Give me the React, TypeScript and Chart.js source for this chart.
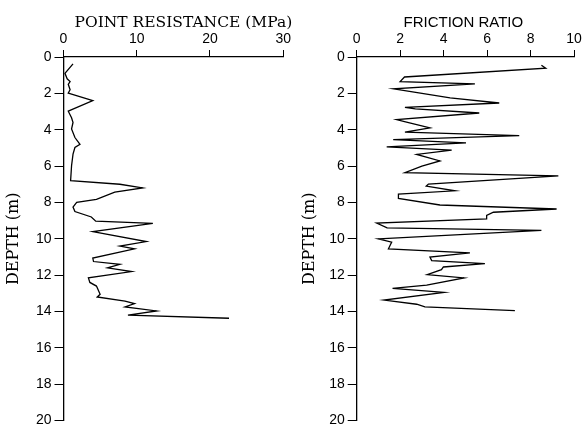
import React, { useEffect, useRef } from "react";
import { Chart, registerables } from "chart.js";

Chart.register(...registerables);

// ---- Data ----
const qcDepth = [0.38, 0.9, 1.2, 1.35, 1.5, 1.8, 1.98, 2.4, 2.98, 3.34, 3.6, 3.96, 4.43, 4.8, 4.98, 5.34, 5.98, 6.8, 7.0, 7.2, 7.43, 7.83, 8.0, 8.25, 8.5, 8.8, 9.03, 9.15, 9.6, 10.15, 10.4, 10.55, 11.06, 11.25, 11.4, 11.6, 11.8, 12.15, 12.4, 12.6, 13.05, 13.2, 13.43, 13.57, 13.75, 13.97, 14.2, 14.37];
const qcValue = [1.3, 0.2, 0.5, 0.9, 0.65, 0.9, 0.65, 4.0, 0.65, 1.1, 1.3, 1.1, 1.56, 2.25, 1.56, 1.3, 1.1, 0.97, 7.7, 10.8, 7.0, 4.5, 1.8, 1.3, 1.56, 3.8, 4.4, 12.2, 4.0, 11.3, 7.7, 9.7, 4.0, 4.1, 7.7, 6.0, 9.3, 3.4, 3.6, 4.5, 5.0, 4.6, 8.4, 9.7, 8.4, 12.7, 8.8, 22.6];

const frDepth = [0.45, 0.62, 1.1, 1.35, 1.48, 1.75, 1.9, 2.25, 2.53, 2.77, 2.85, 3.08, 3.44, 3.55, 3.9, 4.13, 4.32, 4.54, 4.72, 4.94, 5.12, 5.36, 5.72, 6.0, 6.36, 6.54, 6.99, 7.1, 7.36, 7.54, 7.78, 8.14, 8.36, 8.54, 8.72, 8.9, 9.14, 9.4, 9.54, 10.0, 10.18, 10.55, 10.77, 11.0, 11.2, 11.37, 11.55, 11.7, 11.97, 12.15, 12.55, 12.73, 12.95, 13.37, 13.6, 13.75, 13.95];
const frValue = [8.5, 8.7, 2.2, 2.0, 5.44, 1.7, 2.5, 4.3, 6.56, 2.22, 2.7, 5.64, 1.84, 2.2, 3.37, 2.22, 7.48, 1.68, 5.03, 1.38, 4.37, 2.76, 3.83, 3.0, 2.22, 9.28, 3.3, 3.2, 4.52, 1.92, 1.92, 3.83, 9.2, 6.29, 5.98, 5.98, 0.92, 1.4, 8.5, 1.0, 1.61, 1.46, 5.21, 3.37, 3.45, 5.9, 3.99, 3.9, 3.25, 4.94, 3.22, 1.65, 4.02, 1.26, 2.76, 3.14, 7.28];

const depthMin = 0;
const depthMax = 20;
const depthStep = 2;
const qcMax = 30;
const qcStep = 10;
const frMax = 10;
const frStep = 2;

const qcTitle = "POINT RESISTANCE (MPa)";
const frTitle = "FRICTION RATIO";
const depthTitle = "DEPTH (m)";

// ---- Chart helpers ----
const topTitlePlugin = {
  id: "topTitle",
  afterDraw(chart: any, _args: any, opts: any) {
    if (!opts || !opts.text) return;
    const ctx = chart.ctx;
    const ca = chart.chartArea;
    ctx.save();
    ctx.font = opts.font;
    ctx.fillStyle = "#000";
    ctx.textAlign = "center";
    ctx.textBaseline = "alphabetic";
    ctx.fillText(opts.text, (ca.left + ca.right) / 2 + opts.dx, opts.y);
    ctx.restore();
  },
};

type PanelProps = {
  xs: number[];
  ys: number[];
  xMax: number;
  xStep: number;
  title: string;
  titleFont: string;
  titleDx: number;
  yTitlePad: number;
  yAxisWidth: number;
  padRight: number;
  padBottom: number;
  left: number;
};

function Panel(p: PanelProps) {
  const ref = useRef<HTMLCanvasElement | null>(null);
  useEffect(() => {
    if (!ref.current) return;
    const tickFont = { family: "'Liberation Sans', Arial, sans-serif", size: 14 };
    const pts = p.xs.map((v, i) => ({ x: v, y: p.ys[i] }));
    const chart = new Chart(ref.current, {
      type: "scatter",
      data: {
        datasets: [
          {
            data: pts,
            showLine: true,
            borderColor: "#000",
            borderWidth: 1.3,
            pointRadius: 0,
            pointHoverRadius: 0,
            tension: 0,
            fill: false,
          } as any,
        ],
      },
      options: {
        responsive: false,
        maintainAspectRatio: false,
        animation: false,
        layout: { padding: { left: 0, top: 0, right: p.padRight, bottom: p.padBottom } },
        plugins: {
          legend: { display: false },
          tooltip: { enabled: false },
          topTitle: { text: p.title, font: p.titleFont, dx: p.titleDx, y: 27 },
        } as any,
        scales: {
          x: {
            type: "linear",
            position: "top",
            min: 0,
            max: p.xMax,
            ticks: { stepSize: p.xStep, color: "#000", font: tickFont, padding: 2, maxRotation: 0 },
            grid: { display: true, drawOnChartArea: false, drawTicks: true, tickLength: 7, color: "#000", lineWidth: 1 },
            border: { display: true, color: "#000", width: 1.3 },
            afterFit: (s: any) => {
              s.height = 57;
            },
          } as any,
          y: {
            type: "linear",
            reverse: true,
            min: depthMin,
            max: depthMax,
            ticks: { stepSize: depthStep, color: "#000", font: tickFont, padding: 3 },
            grid: { display: true, drawOnChartArea: false, drawTicks: true, tickLength: 9, color: "#000", lineWidth: 1 },
            border: { display: true, color: "#000", width: 1.3 },
            title: {
              display: true,
              text: depthTitle,
              color: "#000",
              font: { family: "'DejaVu Serif', serif", size: 16 },
              padding: { top: p.yTitlePad, bottom: 0 },
            },
            afterFit: (s: any) => {
              s.width = p.yAxisWidth;
            },
          } as any,
        },
      },
      plugins: [topTitlePlugin as any],
    });
    return () => chart.destroy();
  }, []);
  return (
    <canvas
      ref={ref}
      width={293}
      height={432}
      style={{ position: "absolute", left: p.left, top: 0, width: 293, height: 432, display: "block" }}
    />
  );
}

export default function App() {
  return (
    <div style={{ position: "absolute", left: 0, top: 0, width: 586, height: 432, background: "#fff", overflow: "hidden" }}>
      <Panel
        xs={qcValue}
        ys={qcDepth}
        xMax={qcMax}
        xStep={qcStep}
        title={qcTitle}
        titleFont="15.5px 'DejaVu Serif', serif"
        titleDx={10}
        yTitlePad={4}
        yAxisWidth={63.5}
        padRight={9}
        padBottom={8}
        left={0}
      />
      <Panel
        xs={frValue}
        ys={frDepth}
        xMax={frMax}
        xStep={frStep}
        title={frTitle}
        titleFont="15px 'Liberation Sans', Arial, sans-serif"
        titleDx={-2}
        yTitlePad={7}
        yAxisWidth={63.7}
        padRight={12}
        padBottom={9}
        left={293}
      />
    </div>
  );
}
